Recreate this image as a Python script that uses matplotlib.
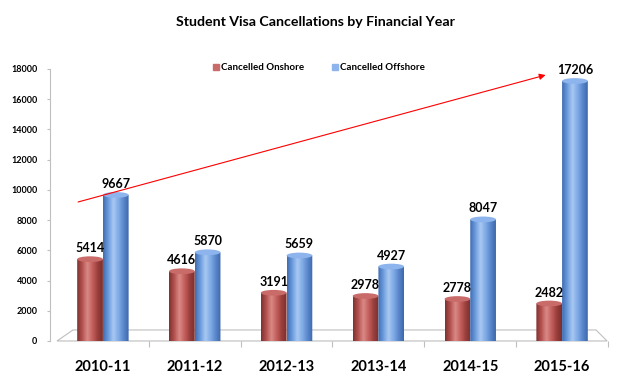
import numpy as np
import matplotlib
matplotlib.use('Agg')
import matplotlib.pyplot as plt
from matplotlib.patches import Ellipse, Polygon
from matplotlib.colors import LinearSegmentedColormap
from matplotlib.lines import Line2D

plt.rcParams['font.family'] = ['Lato', 'DejaVu Sans']

# ---- data ----
years = ['2010-11', '2011-12', '2012-13', '2013-14', '2014-15', '2015-16']
onshore = [5414, 4616, 3191, 2978, 2778, 2482]
offshore = [9667, 5870, 5659, 4927, 8047, 17206]
series_names = ['Cancelled Onshore', 'Cancelled Offshore']
yticks = [0, 2000, 4000, 6000, 8000, 10000, 12000, 14000, 16000, 18000]
trend_start = (-0.27, 9200)
trend_end = (4.82, 17600)
title = 'Student Visa Cancellations by Financial Year'

red_cmap = LinearSegmentedColormap.from_list(
    'r', ['#7E3230', '#B55250', '#D98A87', '#C4605D', '#9A3F3C', '#7A302E'])
blue_cmap = LinearSegmentedColormap.from_list(
    'b', ['#3F6DB3', '#6C9BDD', '#A8C8F2', '#80ABE6', '#5A88CC', '#3E68AA'])
red_cap = '#C96C69'
blue_cap = '#8DB4EC'

fig = plt.figure(figsize=(6.4, 3.89), dpi=100)
ax = fig.add_axes([50 / 640, 48 / 389, 558 / 640, 272 / 389])
ax.set_xlim(-0.576, 5.49)
ax.set_ylim(0, 18000)

bw = 0.28
ell_h = 380
grad = np.linspace(0, 1, 64).reshape(1, -1)


def cylinder(xc, h, cmap, capc):
    x0 = xc - bw / 2
    t = np.linspace(np.pi, 2 * np.pi, 40)
    arc = np.column_stack([xc + bw / 2 * np.cos(t), ell_h / 2 * np.sin(t)])
    pts = np.vstack([[[x0, h]], arc, [[x0 + bw, h]]])
    clip = Polygon(pts, closed=True, facecolor='none', edgecolor='none',
                   transform=ax.transData)
    ax.add_patch(clip)
    im = ax.imshow(grad, cmap=cmap, extent=[x0, x0 + bw, -ell_h / 2, h],
                   aspect='auto', interpolation='bilinear', zorder=3)
    im.set_clip_path(clip)
    im.set_clip_on(True)
    cap = Ellipse((xc, h), bw, ell_h, facecolor=capc, edgecolor='none', zorder=4)
    ax.add_patch(cap)


x = np.arange(len(years))

# floor
floor_depth = 730
floor = Polygon([(-0.5, 0), (-0.326, floor_depth), (len(years) - 0.63, floor_depth),
                 (len(years) - 0.51, 0)], closed=True, facecolor='white',
                edgecolor='#BFBFBF', lw=0.8, zorder=1, clip_on=False)
ax.add_patch(floor)

for i in range(len(years)):
    cylinder(x[i] - bw / 2, onshore[i], red_cmap, red_cap)
    cylinder(x[i] + bw / 2, offshore[i], blue_cmap, blue_cap)
    ax.text(x[i] - bw / 2, onshore[i] + 330, f'{onshore[i]}', ha='center',
            va='bottom', fontsize=9, fontweight='bold', zorder=5)
    ax.text(x[i] + bw / 2, offshore[i] + 330, f'{offshore[i]}', ha='center',
            va='bottom', fontsize=9, fontweight='bold', zorder=5)

ax.set_xlim(-0.576, 5.49)
ax.set_ylim(0, 18000)

# trend arrow
ax.annotate('', xy=trend_end, xytext=trend_start,
            arrowprops=dict(arrowstyle='-|>', color='#FF0000', lw=0.8,
                            mutation_scale=9, shrinkA=0, shrinkB=0), zorder=6)

# axes styling
for s in ['top', 'right', 'bottom']:
    ax.spines[s].set_visible(False)
ax.spines['left'].set_color('#BFBFBF')
ax.spines['left'].set_linewidth(0.8)
ax.set_yticks(yticks)
ax.set_yticklabels([str(v) for v in yticks], fontsize=6.5, fontweight='bold')
ax.tick_params(axis='y', length=2, color='#BFBFBF', pad=7)

ax.set_xticks(x)
ax.set_xticklabels(years, fontsize=10.5, fontweight='bold')
ax.tick_params(axis='x', which='major', length=0, pad=14)
ax.set_xticks(np.arange(len(years)) + 0.5, minor=True)
ax.tick_params(axis='x', which='minor', length=4, color='#BFBFBF', width=0.8,
               direction='out')
ax.axhline(0, xmin=0.012, xmax=1, color='#BFBFBF', lw=0.8, zorder=1)

# legend
handles = [Line2D([], [], marker='s', ls='none', color=red_cap, markersize=4),
           Line2D([], [], marker='s', ls='none', color=blue_cap, markersize=4)]
leg = ax.legend(handles, series_names, loc='center', ncol=2, frameon=False,
                bbox_to_anchor=(318 / 640, 1 - 68 / 389), bbox_transform=fig.transFigure,
                prop={'size': 7, 'weight': 'bold'}, handletextpad=0.1,
                columnspacing=2.6, handlelength=1)

fig.text(315 / 640, 1 - 22 / 389, title, ha='center', va='center',
         fontsize=10.2, fontweight='bold')

fig.savefig('out.png', dpi=100)
